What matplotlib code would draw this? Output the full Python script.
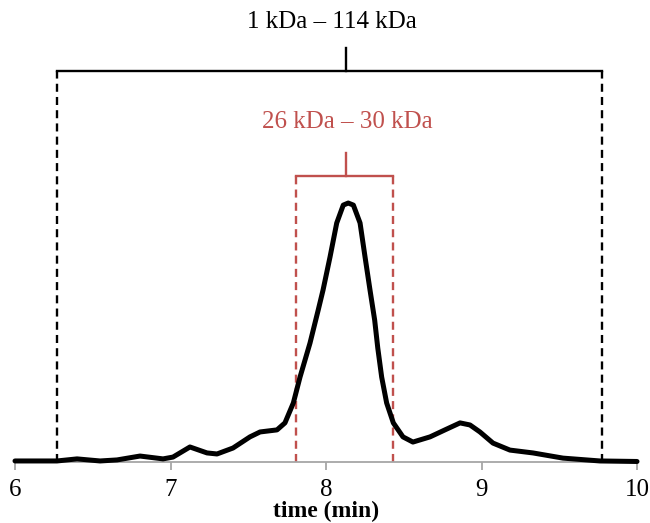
import matplotlib
matplotlib.use("Agg")
import matplotlib.pyplot as plt
import numpy as np

plt.rcParams['font.family'] = ['Liberation Serif', 'DejaVu Serif']

# chromatogram (time in min, relative signal)
time_min = [6.000, 6.270, 6.399, 6.547, 6.656, 6.804, 6.952, 7.016, 7.125, 7.235,
            7.299, 7.402, 7.511, 7.576, 7.685, 7.736, 7.790, 7.833, 7.897, 7.950,
            7.981, 8.026, 8.069, 8.111, 8.143, 8.176, 8.219, 8.251, 8.283, 8.313,
            8.333, 8.358, 8.390, 8.433, 8.495, 8.559, 8.669, 8.765, 8.862, 8.926,
            8.990, 9.074, 9.183, 9.331, 9.524, 9.762, 10.000]
signal = [0.004, 0.004, 0.012, 0.004, 0.008, 0.023, 0.012, 0.019, 0.058, 0.035,
          0.031, 0.054, 0.097, 0.116, 0.124, 0.151, 0.228, 0.328, 0.459, 0.587,
          0.664, 0.792, 0.923, 0.992, 1.000, 0.992, 0.923, 0.792, 0.664, 0.548,
          0.440, 0.328, 0.228, 0.151, 0.097, 0.077, 0.097, 0.124, 0.151, 0.143,
          0.116, 0.073, 0.046, 0.035, 0.015, 0.004, 0.002]

xticks = [6, 7, 8, 9, 10]

# mass ranges: (start, end) times and labels
wide_range = (6.27, 9.775)
wide_label = "1 kDa \u2013 114 kDa"
narrow_range = (7.81, 8.43)
narrow_label = "26 kDa \u2013 30 kDa"
peak_time = 8.13

red = '#c0504d'

fig = plt.figure(figsize=(6.5, 5.23), dpi=100)
ax = fig.add_axes([15 / 650, 61 / 523, 622 / 650, 462 / 523])

ax.plot(time_min, signal, color='black', lw=3.6, solid_joinstyle='round',
        solid_capstyle='round', clip_on=False, zorder=3)

# wide bracket (black)
y_w = 1.510
for xv in wide_range:
    ax.plot([xv, xv], [0, y_w], color='black', lw=1.7, dashes=(3.4, 2.2), zorder=2)
ax.plot(list(wide_range), [y_w, y_w], color='black', lw=1.7)
ax.plot([peak_time, peak_time], [y_w, 1.598], color='black', lw=1.7)
ax.text(8.04, 1.699, wide_label, ha='center', va='center', fontsize=18,
        color='black')

# narrow bracket (red)
y_n = 1.104
for xv in narrow_range:
    ax.plot([xv, xv], [0, y_n], color=red, lw=1.7, dashes=(3.4, 2.2), zorder=2)
ax.plot(list(narrow_range), [y_n, y_n], color=red, lw=1.7)
ax.plot([peak_time, peak_time], [y_n, 1.193], color=red, lw=1.7)
ax.text(8.14, 1.313, narrow_label, ha='center', va='center', fontsize=18,
        color=red)

ax.set_xlim(6, 10)
ax.set_ylim(0, 1.784)
ax.set_xticks(xticks)
ax.set_xticklabels([str(t) for t in xticks])
ax.set_yticks([])
for s in ['left', 'right', 'top']:
    ax.spines[s].set_visible(False)
ax.spines['bottom'].set_color('#a6a6a6')
ax.spines['bottom'].set_linewidth(1.3)
ax.tick_params(axis='x', direction='out', length=6, width=1.3, color='#a6a6a6',
               labelsize=18, pad=6)
ax.set_xlabel("time (min)", fontsize=17, fontweight='bold')
ax.xaxis.set_label_coords(0.5, -0.085)

fig.savefig("out.png", dpi=100)
